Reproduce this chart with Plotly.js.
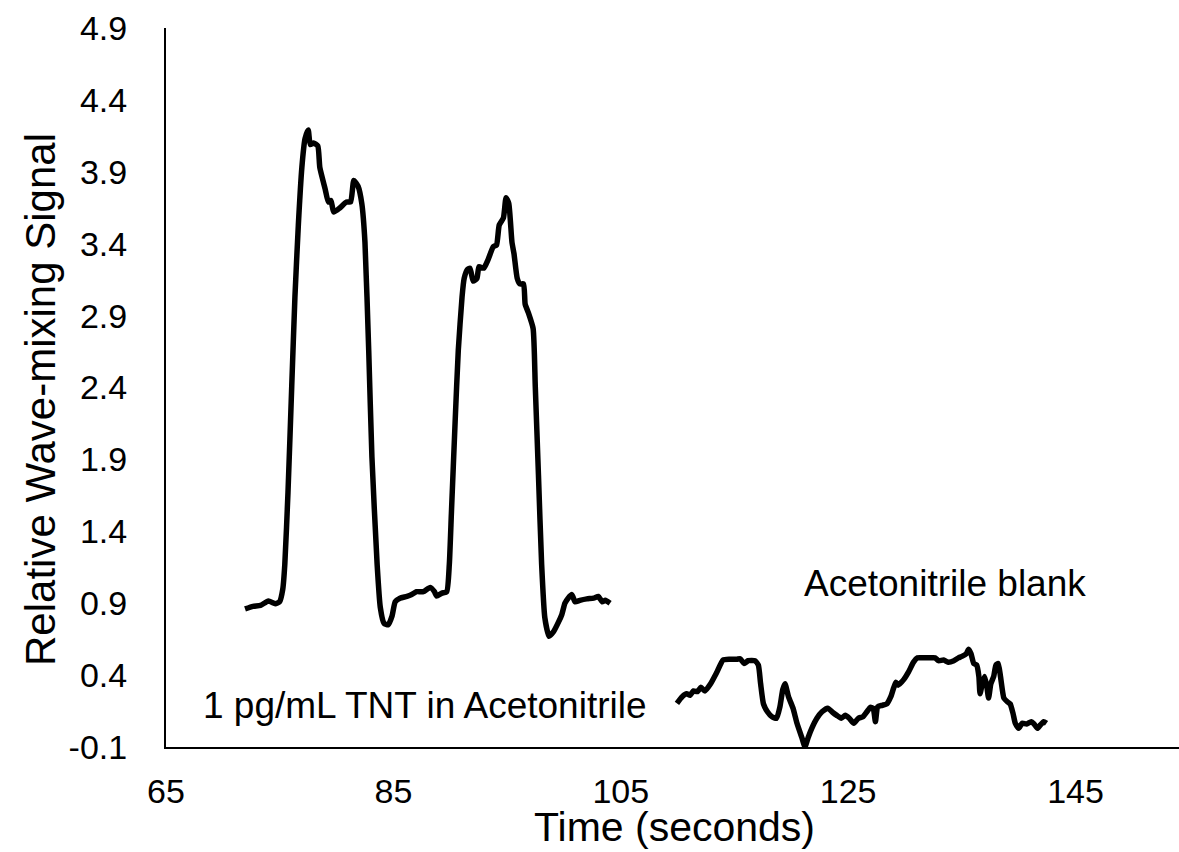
<!DOCTYPE html>
<html>
<head>
<meta charset="utf-8">
<script src="https://cdn.plot.ly/plotly-3.0.1.min.js"></script>
<style>html,body{margin:0;padding:0;background:#fff;}#chart{width:1179px;height:852px;}</style>
</head>
<body>
<div id="chart"></div>
<script>
// Series 1: 1 pg/mL TNT in Acetonitrile
var tntTime = [71.95,72.65,73.31,74.01,74.61,74.99,75.27,75.45,75.73,76.06,76.34,76.64,76.95,77.23,77.51,77.69,77.97,78.35,78.53,79.00,79.28,79.51,79.75,80.31,80.87,81.24,81.52,81.89,82.22,82.50,82.83,83.11,83.57,83.85,84.18,84.55,84.88,85.16,85.58,86.19,86.61,87.03,87.63,88.24,88.61,88.80,89.27,89.69,89.92,90.11,90.43,90.71,91.04,91.23,91.51,91.74,92.02,92.35,92.53,92.95,93.33,93.79,94.07,94.31,94.68,94.91,95.15,95.43,95.61,95.89,96.13,96.45,96.59,96.87,97.29,97.48,97.76,98.04,98.32,98.69,99.07,99.53,99.81,100.09,100.37,100.70,100.98,101.40,102.01,102.61,103.03,103.36,103.64,104.06];
var tntSignal = [0.86,0.878,0.885,0.915,0.897,0.91,0.997,1.17,1.67,2.41,3.03,3.53,3.93,4.13,4.19,4.09,4.10,4.08,3.93,3.78,3.69,3.70,3.62,3.65,3.69,3.69,3.84,3.80,3.68,3.41,2.66,1.92,1.17,0.87,0.76,0.75,0.81,0.91,0.935,0.947,0.96,0.98,0.98,1.01,0.98,0.95,0.97,0.98,1.17,1.54,2.16,2.66,3.03,3.16,3.22,3.23,3.14,3.16,3.24,3.23,3.29,3.38,3.39,3.53,3.58,3.72,3.68,3.41,3.33,3.16,3.12,3.12,2.98,2.92,2.81,2.41,1.79,1.17,0.80,0.67,0.70,0.77,0.82,0.90,0.935,0.96,0.91,0.92,0.93,0.935,0.947,0.91,0.92,0.90];

// Series 2: Acetonitrile blank
var blankTime = [109.94,110.4,110.8,111.1,111.4,111.75,112.05,112.4,112.9,113.45,114.0,114.6,115.2,115.5,115.85,116.2,116.8,117.1,117.3,117.55,117.9,118.3,118.7,119.0,119.25,119.45,119.75,120.15,120.5,120.95,121.2,121.5,121.8,122.25,122.7,123.2,123.65,124.0,124.4,124.75,125.1,125.5,125.9,126.3,126.65,126.95,127.2,127.4,127.6,128.0,128.4,128.75,129.0,129.2,129.4,129.9,130.3,130.75,131.1,131.6,132.2,132.65,132.95,133.4,133.8,134.3,134.7,135.0,135.4,135.6,135.8,136.05,136.3,136.5,136.6,136.8,137.0,137.2,137.35,137.55,137.8,138.0,138.2,138.4,138.7,139.0,139.25,139.5,139.7,140.0,140.3,140.7,141.1,141.35,141.65,141.9,142.2,142.45];
var blankSignal = [0.204,0.25,0.27,0.26,0.29,0.285,0.315,0.29,0.34,0.42,0.505,0.51,0.51,0.514,0.48,0.50,0.50,0.47,0.34,0.20,0.145,0.11,0.10,0.18,0.30,0.34,0.25,0.17,0.065,-0.04,-0.098,-0.03,0.03,0.10,0.145,0.17,0.14,0.12,0.10,0.12,0.10,0.065,0.10,0.11,0.145,0.176,0.17,0.076,0.18,0.19,0.20,0.25,0.31,0.35,0.33,0.37,0.42,0.49,0.52,0.52,0.52,0.52,0.50,0.505,0.49,0.50,0.52,0.53,0.55,0.58,0.55,0.48,0.47,0.39,0.27,0.34,0.39,0.32,0.24,0.34,0.39,0.47,0.48,0.39,0.24,0.215,0.20,0.134,0.065,0.03,0.065,0.06,0.076,0.06,0.03,0.053,0.076,0.065];

var xTicks = [65,85,105,125,145];
var yTicks = [-0.1,0.4,0.9,1.4,1.9,2.4,2.9,3.4,3.9,4.4,4.9];
var yTickText = ["-0.1","0.4","0.9","1.4","1.9","2.4","2.9","3.4","3.9","4.4","4.9"];
var labelTnt = "1 pg/mL TNT in Acetonitrile";
var labelBlank = "Acetonitrile blank";
var xTitle = "Time (seconds)";
var yTitle = "Relative Wave-mixing Signal";

var FONT = "Liberation Sans, Arial, sans-serif";
var lineStyle = {color:"#000000", width:5.5, shape:"spline", smoothing:0.5};

var traces = [
  {x:tntTime, y:tntSignal, mode:"lines", line:lineStyle, hoverinfo:"skip", showlegend:false},
  {x:blankTime, y:blankSignal, mode:"lines", line:lineStyle, hoverinfo:"skip", showlegend:false}
];

var layout = {
  width:1179, height:852,
  paper_bgcolor:"#ffffff", plot_bgcolor:"#ffffff",
  margin:{l:166, r:0, t:28, b:105, pad:0},
  showlegend:false,
  font:{family:FONT, color:"#000000", size:34},
  xaxis:{
    range:[65,154.1], tickvals:xTicks, ticktext:xTicks.map(String),
    showgrid:false, zeroline:false, showline:true, linecolor:"#000000", linewidth:2,
    ticks:"", ticklabelstandoff:13, tickfont:{family:FONT, size:34, color:"#000000"}
  },
  yaxis:{
    range:[-0.1,4.9], tickvals:yTicks, ticktext:yTickText,
    showgrid:false, zeroline:false, showline:true, linecolor:"#000000", linewidth:2,
    ticks:"", ticklabelstandoff:30, tickfont:{family:FONT, size:34, color:"#000000"}
  },
  annotations:[
    {x:68.1, y:0.19, xref:"x", yref:"y", xanchor:"left", yanchor:"middle", showarrow:false,
     text:labelTnt, font:{family:FONT, size:37, color:"#000000"}},
    {x:120.9, y:1.035, xref:"x", yref:"y", xanchor:"left", yanchor:"middle", showarrow:false,
     text:labelBlank, font:{family:FONT, size:37, color:"#000000"}},
    {x:(674-166)/1013, y:(747-827)/719, xref:"paper", yref:"paper", xanchor:"center", yanchor:"middle",
     showarrow:false, text:xTitle, font:{family:FONT, size:41, color:"#000000"}},
    {x:(40-166)/1013, y:(747-400)/719, xref:"paper", yref:"paper", xanchor:"center", yanchor:"middle",
     textangle:-90, showarrow:false, text:yTitle, font:{family:FONT, size:42, color:"#000000"}}
  ]
};

Plotly.newPlot("chart", traces, layout, {displayModeBar:false, staticPlot:true});
</script>
</body>
</html>
